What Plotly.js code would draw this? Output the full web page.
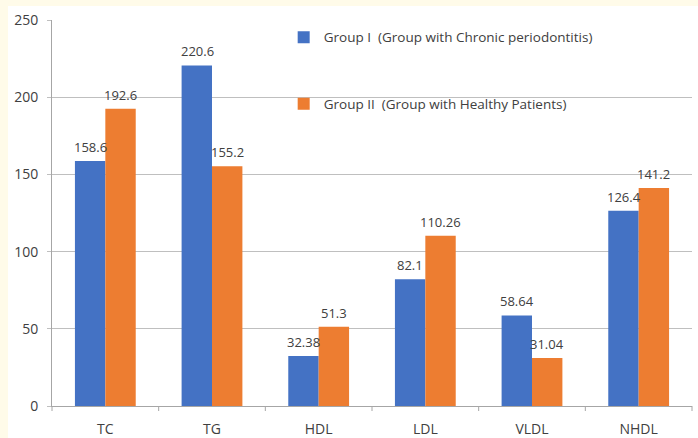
<!DOCTYPE html>
<html>
<head>
<meta charset="utf-8">
<script src="https://cdn.plot.ly/plotly-3.0.1.min.js"></script>
<style>
  html, body { margin: 0; padding: 0; background: #fffbe9; }
  #chart { width: 698px; height: 438px; }
</style>
</head>
<body>
<div id="chart"></div>
<script>
// Lipid profile parameters (mg/dL) for the two study groups
const categories = ["TC", "TG", "HDL", "LDL", "VLDL", "NHDL"];
const groupI = [158.6, 220.6, 32.38, 82.1, 58.64, 126.4];
const groupII = [192.6, 155.2, 51.3, 110.26, 31.04, 141.2];
const seriesNames = [
  "Group I  (Group with Chronic periodontitis)",
  "Group II  (Group with Healthy Patients)"
];
const yTicks = [0, 50, 100, 150, 200, 250];

const FONT = "Open Sans, sans-serif";
const TEXT_COLOR = "#404040";
const PLOT_W = 640, PLOT_H = 386;

function barTrace(values, name, color, group) {
  return {
    type: "bar",
    x: categories,
    y: values,
    name: name,
    legendgroup: group,
    marker: { color: color },
    hoverinfo: "x+y"
  };
}

const data = [
  barTrace(groupI, seriesNames[0], "#4472c4", "g1"),
  barTrace(groupII, seriesNames[1], "#ed7d31", "g2")
];

// value labels sitting above each bar (left bar of a pair shifted left, right bar shifted right)
function valueLabels(values, shift) {
  return values.map(function (v, i) {
    return {
      x: categories[i], y: v, xref: "x", yref: "y",
      text: String(v), showarrow: false,
      xanchor: "center", yanchor: "bottom",
      xshift: shift, yshift: 3,
      font: { family: FONT, size: 13, color: TEXT_COLOR }
    };
  });
}

// category boundary tick marks below the x axis
const boundaryTicks = [];
for (let i = 0; i <= categories.length; i++) {
  boundaryTicks.push({
    type: "line", xref: "paper", yref: "paper",
    x0: i / categories.length, x1: i / categories.length,
    y0: 0, y1: -5 / PLOT_H,
    line: { color: "#a6a6a6", width: 1 }
  });
}

const layout = {
  width: 698,
  height: 438,
  margin: { l: 52, r: 6, t: 20, b: 32 },
  paper_bgcolor: "#fffbe9",
  plot_bgcolor: "#ffffff",
  barmode: "group",
  bargap: 0.43,
  bargroupgap: 0,
  font: { family: FONT, size: 13, color: TEXT_COLOR },
  showlegend: true,
  legend: {
    x: 0.362, y: 0.995, xanchor: "left", yanchor: "top",
    bgcolor: "rgba(0,0,0,0)",
    tracegroupgap: 46,
    font: { family: FONT, size: 13.5, color: TEXT_COLOR },
    itemwidth: 30
  },
  xaxis: {
    type: "category",
    showline: true,
    linecolor: "#a6a6a6",
    linewidth: 1,
    ticks: "",
    ticklabelstandoff: 10,
    tickfont: { family: FONT, size: 14, color: TEXT_COLOR },
    showgrid: false,
    fixedrange: true
  },
  yaxis: {
    range: [0, 250],
    tickvals: yTicks,
    ticktext: yTicks.map(String),
    showgrid: true,
    gridcolor: "#bfbfbf",
    gridwidth: 1,
    showline: true,
    linecolor: "#a6a6a6",
    ticks: "outside",
    ticklen: 4,
    tickcolor: "#bfbfbf",
    ticklabelstandoff: 6,
    tickfont: { family: FONT, size: 14, color: TEXT_COLOR },
    zeroline: false,
    fixedrange: true
  },
  annotations: valueLabels(groupI, -15).concat(valueLabels(groupII, 15)),
  shapes: [
    {
      type: "rect", xref: "paper", yref: "paper", layer: "below",
      x0: -44 / PLOT_W, x1: 646 / PLOT_W, y0: -32 / PLOT_H, y1: 400 / PLOT_H,
      fillcolor: "#ffffff", line: { width: 0 }
    }
  ].concat(boundaryTicks)
};

Plotly.newPlot("chart", data, layout, { displayModeBar: false, staticPlot: true });
</script>
</body>
</html>
